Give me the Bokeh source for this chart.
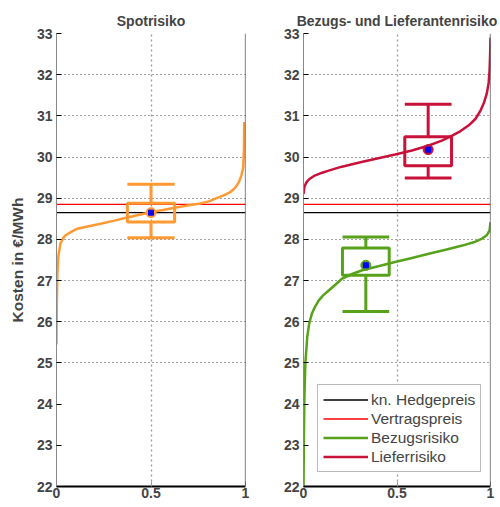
from bokeh.plotting import figure
from bokeh.layouts import row
from bokeh.models import Range1d, FixedTicker, Legend, LegendItem, Span
from bokeh.embed import file_html
from bokeh.resources import INLINE

# ---------------- data ----------------
y_ticks = [22, 23, 24, 25, 26, 27, 28, 29, 30, 31, 32, 33]
grid_y = [25, 26, 27, 28, 29, 30, 31, 32]
x_ticks = [0, 0.5, 1]
x_tick_labels = {0: "0", 0.5: "0.5", 1: "1"}

hedge_price = 28.65      # kn. Hedgepreis
contract_price = 28.85   # Vertragspreis

# Spotrisiko: sorted cost curve
spot_p = [0.0, 0.002, 0.005, 0.01, 0.021, 0.035, 0.048, 0.08, 0.11, 0.17, 0.233, 0.3, 0.374, 0.44,
          0.497, 0.57, 0.64, 0.70, 0.762, 0.81, 0.85, 0.89, 0.92, 0.945, 0.965, 0.978, 0.988, 0.992, 0.993]
spot_v = [25.45, 26.5, 27.2, 27.6, 27.9, 28.03, 28.1, 28.19, 28.26, 28.32, 28.38, 28.45, 28.53, 28.6,
          28.66, 28.72, 28.78, 28.83, 28.87, 28.93, 29.01, 29.08, 29.15, 29.25, 29.39, 29.55, 29.75, 30.2, 30.85]
# boxplot Spotrisiko
spot_pos = [0.5]
spot_whisk_lo = [28.04]
spot_q1 = [28.42]
spot_q3 = [28.88]
spot_whisk_hi = [29.34]
spot_mean = [28.65]

# Bezugsrisiko (green)
bez_p = [0.0, 0.002, 0.005, 0.01, 0.02, 0.03, 0.045, 0.06, 0.082, 0.105, 0.135, 0.17, 0.207, 0.26,
         0.314, 0.4, 0.49, 0.58, 0.67, 0.76, 0.849, 0.91, 0.955, 0.98, 0.995, 1.0]
bez_v = [21.8, 23.2, 24.2, 25.0, 25.63, 25.95, 26.2, 26.35, 26.52, 26.64, 26.76, 26.9, 27.05, 27.16,
         27.25, 27.35, 27.45, 27.55, 27.65, 27.75, 27.85, 27.93, 28.02, 28.1, 28.22, 28.42]
bez_pos = [1 / 3]
bez_whisk_lo = [26.25]
bez_q1 = [27.13]
bez_q3 = [27.79]
bez_whisk_hi = [28.06]
bez_mean = [27.37]

# Lieferrisiko (crimson)
lief_p = [0.0, 0.005, 0.015, 0.03, 0.06, 0.1, 0.135, 0.2, 0.31, 0.4, 0.49, 0.58, 0.67, 0.74, 0.795,
          0.84, 0.884, 0.92, 0.947, 0.965, 0.98, 0.99, 0.995, 0.998, 1.0]
lief_v = [29.1, 29.28, 29.38, 29.46, 29.55, 29.62, 29.67, 29.76, 29.88, 29.97, 30.06, 30.16, 30.28,
          30.4, 30.52, 30.63, 30.77, 30.93, 31.13, 31.32, 31.54, 31.8, 32.1, 32.5, 32.9]
lief_pos = [2 / 3]
lief_whisk_lo = [29.49]
lief_q1 = [29.79]
lief_q3 = [30.49]
lief_whisk_hi = [31.28]
lief_mean = [30.18]

# ---------------- styles ----------------
FONT = "Liberation Sans"
ORANGE = "#FF9A33"
GREEN = "#58A21B"
CRIMSON = "#C8123A"
BOX_W = 0.25


def make_panel(title, border_left, border_right, frame_w, ylabel=None):
    p = figure(width=10, height=10, frame_width=frame_w, frame_height=453,
               x_range=Range1d(0, 1), y_range=Range1d(22, 33),
               output_backend="svg", toolbar_location=None,
               min_border_left=border_left, min_border_right=border_right,
               min_border_top=33, min_border_bottom=20, title=title)
    p.outline_line_color = None
    p.background_fill_color = "white"
    p.title.align = "center"
    p.title.text_font = FONT
    p.title.text_font_size = "14px"
    p.title.text_font_style = "bold"
    p.title.standoff = 9

    # axes
    p.yaxis.ticker = FixedTicker(ticks=y_ticks)
    p.yaxis.axis_line_color = "#888888"
    p.yaxis.major_tick_in = 5
    p.yaxis.major_tick_out = 0
    p.yaxis.major_tick_line_color = "black"
    p.yaxis.minor_tick_line_color = None
    p.yaxis.major_label_text_font = FONT
    p.yaxis.major_label_text_font_size = "14px"
    p.yaxis.major_label_text_font_style = "bold"
    p.yaxis.major_label_standoff = 4
    if ylabel:
        p.yaxis.axis_label = ylabel
        p.yaxis.axis_label_text_font = FONT
        p.yaxis.axis_label_text_font_size = "15.5px"
        p.yaxis.axis_label_text_font_style = "bold"
        p.yaxis.axis_label_standoff = 8

    p.xaxis.ticker = FixedTicker(ticks=x_ticks)
    p.xaxis.major_label_overrides = x_tick_labels
    p.xaxis.axis_line_color = "black"
    p.xaxis.axis_line_width = 2
    p.xaxis.major_tick_in = 5
    p.xaxis.major_tick_out = 0
    p.xaxis.major_tick_line_color = "#999999"
    p.xaxis.minor_tick_line_color = None
    p.xaxis.major_label_text_font = FONT
    p.xaxis.major_label_text_font_size = "14px"
    p.xaxis.major_label_text_font_style = "bold"
    p.xaxis.major_label_standoff = 1

    # right frame edge
    p.add_layout(Span(location=p.x_range.end, dimension="height",
                      line_color="#333333", line_width=1.2))

    # grid
    p.ygrid.ticker = FixedTicker(ticks=grid_y)
    p.ygrid.grid_line_color = "#444444"
    p.ygrid.grid_line_dash = "1 3"
    p.ygrid.grid_line_width = 1
    p.xgrid.ticker = FixedTicker(ticks=[0.5])
    p.xgrid.grid_line_color = "#999999"
    p.xgrid.grid_line_dash = "2 3"
    p.xgrid.grid_line_width = 1.3
    return p


def draw_box(p, pos, wlo, q1, q3, whi, mean, color):
    left = [c - BOX_W / 2 for c in pos]
    rightx = [c + BOX_W / 2 for c in pos]
    p.segment(x0=pos, y0=q3, x1=pos, y1=whi, line_color=color, line_width=3)
    p.segment(x0=pos, y0=wlo, x1=pos, y1=q1, line_color=color, line_width=3)
    p.segment(x0=left, y0=whi, x1=rightx, y1=whi, line_color=color, line_width=3)
    p.segment(x0=left, y0=wlo, x1=rightx, y1=wlo, line_color=color, line_width=3)
    p.quad(left=left, right=rightx, bottom=q1, top=q3, fill_color=None,
           line_color=color, line_width=3)
    p.scatter(x=pos, y=mean, marker="circle", size=10, fill_color=color, line_color=color)
    p.scatter(x=pos, y=mean, marker="square", size=5, fill_color="#0000FF", line_color="#0000FF")


# ---------------- left panel ----------------
p1 = make_panel("Spotrisiko", 56, 13, 189, ylabel="Kosten in €/MWh")
p1.line(x=[0, 1], y=[hedge_price, hedge_price], line_color="black", line_width=1.3)
p1.line(x=[0, 1], y=[contract_price, contract_price], line_color="#FF0000", line_width=1.3)
p1.line(x=spot_p, y=spot_v, line_color=ORANGE, line_width=2.5)
draw_box(p1, spot_pos, spot_whisk_lo, spot_q1, spot_q3, spot_whisk_hi, spot_mean, ORANGE)

# ---------------- right panel ----------------
p2 = make_panel("Bezugs- und Lieferantenrisiko", 45, 10, 187)
r_hedge = p2.line(x=[0, 1], y=[hedge_price, hedge_price], line_color="black", line_width=1.3)
r_contract = p2.line(x=[0, 1], y=[contract_price, contract_price], line_color="#FF0000", line_width=1.3)
r_bez = p2.line(x=bez_p, y=bez_v, line_color=GREEN, line_width=2.5)
r_lief = p2.line(x=lief_p, y=lief_v, line_color=CRIMSON, line_width=2.5)
draw_box(p2, bez_pos, bez_whisk_lo, bez_q1, bez_q3, bez_whisk_hi, bez_mean, GREEN)
draw_box(p2, lief_pos, lief_whisk_lo, lief_q1, lief_q3, lief_whisk_hi, lief_mean, CRIMSON)

legend = Legend(items=[
    LegendItem(label="kn. Hedgepreis", renderers=[r_hedge]),
    LegendItem(label="Vertragspreis", renderers=[r_contract]),
    LegendItem(label="Bezugsrisiko", renderers=[r_bez]),
    LegendItem(label="Lieferrisiko", renderers=[r_lief]),
], location=(14, 14))
legend.label_text_font = FONT
legend.label_text_font_size = "15.5px"
legend.glyph_width = 45
legend.glyph_height = 19
legend.label_height = 19
legend.label_standoff = 3
legend.spacing = 0
legend.padding = 5
legend.margin = 0
legend.border_line_color = "#777777"
legend.border_line_width = 1
legend.background_fill_color = "white"
legend.background_fill_alpha = 1
p2.add_layout(legend)

layout = row(p1, p2)
open("out.html", "w").write(file_html(layout, INLINE))
